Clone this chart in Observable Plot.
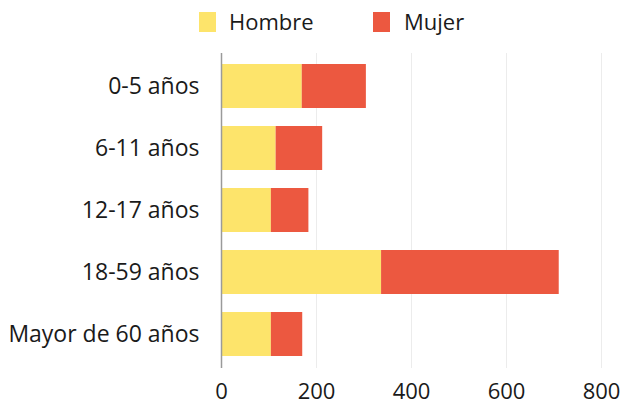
<!DOCTYPE html>
<html>
<head>
<meta charset="utf-8">
<script src="https://cdn.jsdelivr.net/npm/d3@7"></script>
<script src="https://cdn.jsdelivr.net/npm/@observablehq/plot@0.6"></script>
<style>
  html, body { margin: 0; padding: 0; background: #fff; }
  body { width: 621px; height: 406px; overflow: hidden; font-family: "Open Sans", sans-serif; }
  #legend { position: relative; height: 44px; }
  .sw { position: absolute; top: 12px; width: 17px; height: 20px; }
  .lb { position: absolute; top: 5px; font-size: 22px; color: #1a1a1a; line-height: 32px; }
  svg { display: block; overflow: hidden; }
</style>
</head>
<body>
<div id="legend"></div>
<div id="chart"></div>
<script>
const categories = ["0-5 años", "6-11 años", "12-17 años", "18-59 años", "Mayor de 60 años"];
const series = ["Hombre", "Mujer"];
const colors = ["#FDE46B", "#EC5840"];
const hombre = [170, 115, 105, 337, 105];
const mujer = [135, 98, 79, 374, 66];
const xTicks = [0, 200, 400, 600, 800];

const data = [];
categories.forEach((c, i) => {
  data.push({grupo: c, sexo: series[0], valor: hombre[i]});
  data.push({grupo: c, sexo: series[1], valor: mujer[i]});
});

// legend
const legend = document.getElementById("legend");
const swX = [199, 373];
const lbX = [229, 404];
series.forEach((s, i) => {
  const sw = document.createElement("div");
  sw.className = "sw";
  sw.style.left = swX[i] + "px";
  sw.style.background = colors[i];
  legend.appendChild(sw);
  const lb = document.createElement("div");
  lb.className = "lb";
  lb.style.left = lbX[i] + "px";
  lb.textContent = s;
  legend.appendChild(lb);
});

const chart = Plot.plot({
  width: 621,
  height: 362,
  marginTop: 9,
  marginBottom: 38,
  marginLeft: 221,
  marginRight: 20,
  style: {fontFamily: "'Open Sans', sans-serif", fontSize: "23px", color: "#1a1a1a", background: "#fff"},
  x: {domain: [0, 800], ticks: xTicks, tickSize: 0, tickPadding: 15, label: null},
  y: {domain: categories, paddingInner: 0.29, paddingOuter: 0.17, tickSize: 0, tickPadding: 22, label: null},
  color: {domain: series, range: colors},
  marks: [
    Plot.ruleX(xTicks.slice(1), {stroke: "#ececec", strokeWidth: 1}),
    Plot.barX(data, Plot.stackX({y: "grupo", x: "valor", fill: "sexo", order: series})),
    Plot.ruleX([0], {stroke: "#9a9a9a", strokeWidth: 1.5}),
    Plot.axisX({ticks: xTicks, tickSize: 0, tickPadding: 15, fontSize: 22, label: null}),
    Plot.axisY({tickSize: 0, tickPadding: 22, fontSize: 23, label: null})
  ]
});
document.getElementById("chart").appendChild(chart);
</script>
</body>
</html>
